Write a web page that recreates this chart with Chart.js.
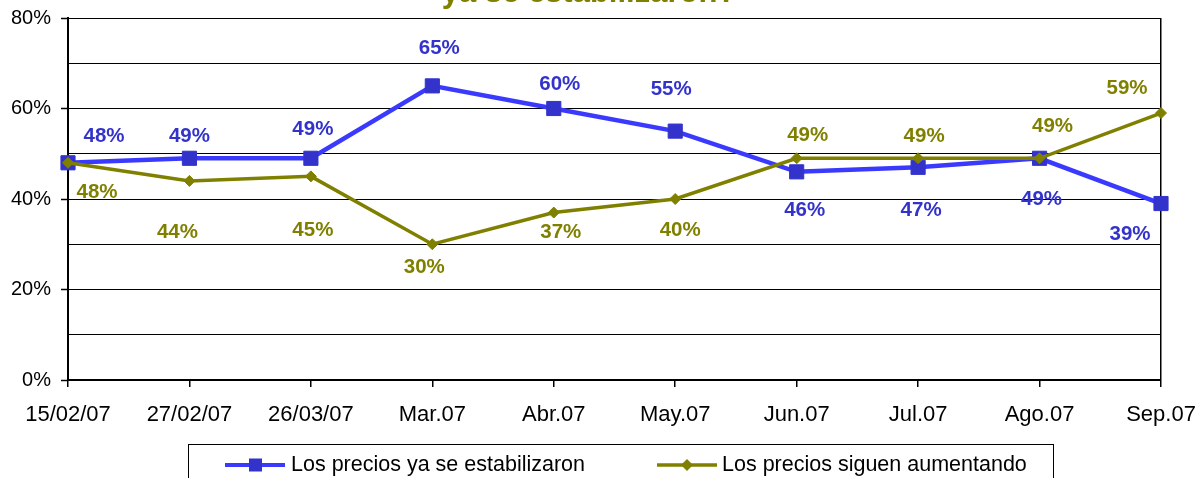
<!DOCTYPE html>
<html>
<head>
<meta charset="utf-8">
<script src="https://cdn.jsdelivr.net/npm/chart.js@4"></script>
<style>
  html, body { margin: 0; padding: 0; background: #ffffff; }
  #c { display: block; }
</style>
</head>
<body>
<canvas id="c" width="1204" height="478"></canvas>
<script>
const categories = ['15/02/07', '27/02/07', '26/03/07', 'Mar.07', 'Abr.07', 'May.07', 'Jun.07', 'Jul.07', 'Ago.07', 'Sep.07'];
const estabilizaron = [48, 49, 49, 65, 60, 55, 46, 47, 49, 39];
const aumentando = [48, 44, 45, 30, 37, 40, 49, 49, 49, 59];
const seriesNames = ['Los precios ya se estabilizaron', 'Los precios siguen aumentando'];
const titleText = 'ya se estabilizaron?';

const FONT = '"Liberation Sans", Arial, sans-serif';
const BLUE_LINE = '#3a3aff';
const BLUE_MARK = '#3333cc';
const OLIVE = '#808000';

// label placement (pixel offsets from each point)
const blueLabelOffsets = [[36,-26],[0,-22],[2,-29],[7,-38],[6,-24],[-4,-42],[8,38],[3,43],[2,41],[-31,31]];
const oliveLabelOffsets = [[29,30],[-12,51],[2,54],[-8,23],[7,20],[5,31],[11,-23],[6,-22],[13,-32],[-34,-25]];

const valueLabels = {
  id: 'valueLabels',
  afterDatasetsDraw(chart) {
    const ctx = chart.ctx;
    ctx.save();
    ctx.font = 'bold 20.5px ' + FONT;
    ctx.textAlign = 'center';
    ctx.textBaseline = 'middle';
    chart.data.datasets.forEach((ds, di) => {
      const meta = chart.getDatasetMeta(di);
      const offs = di === 0 ? blueLabelOffsets : oliveLabelOffsets;
      ctx.fillStyle = di === 0 ? BLUE_MARK : OLIVE;
      meta.data.forEach((pt, i) => {
        const o = offs[i];
        ctx.fillText(ds.data[i] + '%', pt.x + o[0], pt.y + o[1]);
      });
    });
    ctx.restore();
  }
};

const titleAndLegend = {
  id: 'titleAndLegend',
  afterDraw(chart) {
    const ctx = chart.ctx;
    ctx.save();
    // title (cut at the top edge)
    ctx.font = 'bold 31px ' + FONT;
    ctx.fillStyle = OLIVE;
    ctx.textAlign = 'center';
    ctx.textBaseline = 'alphabetic';
    ctx.fillText(titleText, 589, 2);

    // legend box
    ctx.strokeStyle = '#000';
    ctx.lineWidth = 1;
    ctx.strokeRect(188.5, 444.5, 865, 60);
    const ly = 465;
    ctx.font = '21.5px ' + FONT;
    ctx.textAlign = 'left';
    ctx.textBaseline = 'middle';
    // item 1
    ctx.strokeStyle = BLUE_LINE;
    ctx.lineWidth = 4;
    ctx.beginPath(); ctx.moveTo(225, ly); ctx.lineTo(285, ly); ctx.stroke();
    ctx.fillStyle = BLUE_MARK;
    ctx.fillRect(249, ly - 6.5, 13, 13);
    ctx.fillStyle = '#000';
    ctx.fillText(chart.data.datasets[0].label, 291, ly);
    // item 2
    ctx.strokeStyle = OLIVE;
    ctx.lineWidth = 3.5;
    ctx.beginPath(); ctx.moveTo(657, ly); ctx.lineTo(717, ly); ctx.stroke();
    ctx.fillStyle = OLIVE;
    ctx.beginPath();
    ctx.moveTo(687 - 6, ly); ctx.lineTo(687, ly - 6); ctx.lineTo(687 + 6, ly); ctx.lineTo(687, ly + 6);
    ctx.closePath(); ctx.fill();
    ctx.fillStyle = '#000';
    ctx.fillText(chart.data.datasets[1].label, 722, ly);
    ctx.restore();
  }
};

const n = categories.length;

new Chart(document.getElementById('c'), {
  type: 'line',
  data: {
    labels: categories,
    datasets: [
      {
        label: seriesNames[0],
        data: estabilizaron,
        borderColor: BLUE_LINE,
        borderWidth: 4.5,
        pointStyle: 'rect',
        pointRadius: 10,
        pointBackgroundColor: BLUE_MARK,
        pointBorderColor: BLUE_MARK,
        pointBorderWidth: 1,
        tension: 0,
        clip: false,
        order: 2
      },
      {
        label: seriesNames[1],
        data: aumentando,
        borderColor: OLIVE,
        borderWidth: 3.5,
        pointStyle: 'rectRot',
        pointRadius: 5.5,
        pointBackgroundColor: OLIVE,
        pointBorderColor: OLIVE,
        pointBorderWidth: 1,
        tension: 0,
        clip: false,
        order: 1
      }
    ]
  },
  options: {
    responsive: false,
    animation: false,
    events: [],
    layout: { autoPadding: false, padding: { top: 18, right: 43, left: 0, bottom: 0 } },
    plugins: {
      legend: { display: false },
      title: { display: false },
      tooltip: { enabled: false }
    },
    scales: {
      x: {
        offset: false,
        grid: {
          drawOnChartArea: true,
          color: (c) => c.index === n - 1 ? '#000' : 'rgba(0,0,0,0)',
          lineWidth: 1.5,
          tickColor: '#000',
          tickWidth: 1.5,
          tickLength: 7
        },
        border: { color: '#000', width: 2 },
        ticks: {
          font: { family: FONT, size: 22 },
          color: '#000',
          padding: 15,
          maxRotation: 0,
          autoSkip: false
        },
        afterFit: (s) => {
          s.height = 98;
          s.paddingLeft = 0; s.paddingRight = 0; s.paddingTop = 0; s.paddingBottom = 0;
        }
      },
      y: {
        min: 0,
        max: 80,
        grid: {
          color: '#000',
          lineWidth: 1,
          tickColor: (c) => (c.tick && c.tick.value % 20 === 0) ? '#000' : 'rgba(0,0,0,0)',
          tickLength: 7,
          tickWidth: 1.5
        },
        border: { color: '#000', width: 2 },
        ticks: {
          stepSize: 10,
          callback: (v) => v % 20 === 0 ? v + '%' : '',
          font: { family: FONT, size: 20 },
          color: '#000',
          padding: 10
        },
        afterFit: (s) => {
          s.width = 68;
          s.paddingLeft = 0; s.paddingRight = 0; s.paddingTop = 0; s.paddingBottom = 0;
        }
      }
    }
  },
  plugins: [valueLabels, titleAndLegend]
});
</script>
</body>
</html>
